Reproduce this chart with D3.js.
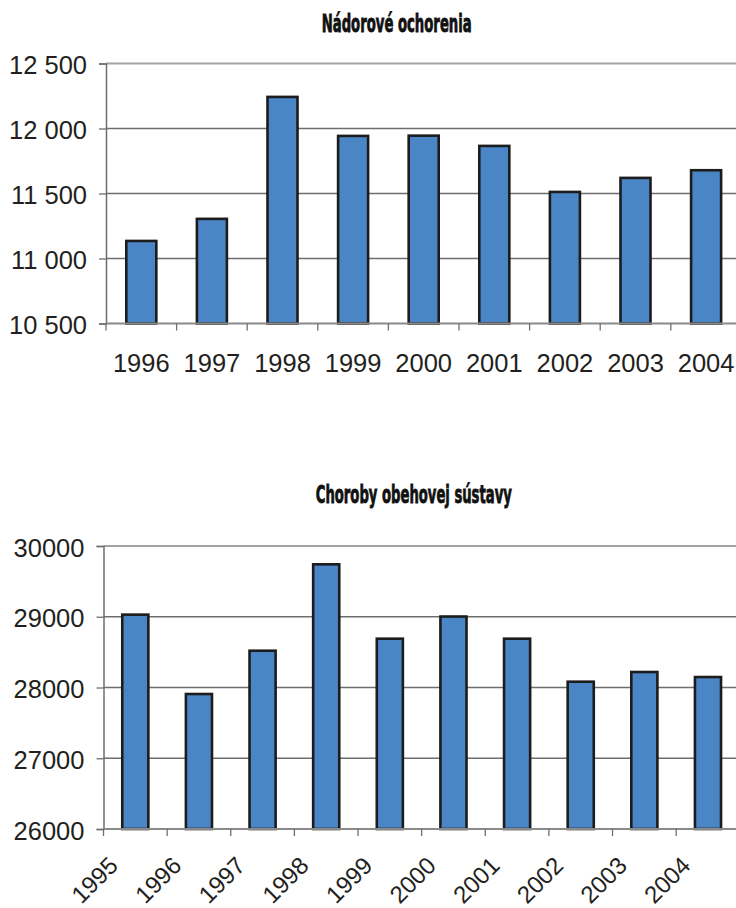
<!DOCTYPE html>
<html>
<head>
<meta charset="utf-8">
<script src="https://cdn.jsdelivr.net/npm/d3@7/dist/d3.min.js"></script>
<style>
  html, body { margin: 0; padding: 0; background: #fff; }
  svg { display: block; }
  .title { font-family: "Liberation Sans Narrow", "DejaVu Sans Condensed", "Liberation Sans", sans-serif; font-weight: bold; fill: #111; stroke: #111; stroke-width: 0.8px; }
  .tick text { font-family: "Liberation Sans", Arial, sans-serif; fill: #231f20; }
</style>
</head>
<body>
<script>
// Nádorové ochorenia
const tumourYears = ["1996", "1997", "1998", "1999", "2000", "2001", "2002", "2003", "2004"];
const tumourValues = [11135, 11305, 12243, 11943, 11945, 11866, 11512, 11620, 11679];
const tumourTicks = [10500, 11000, 11500, 12000, 12500];

// Choroby obehovej sústavy
const circulatoryYears = ["1995", "1996", "1997", "1998", "1999", "2000", "2001", "2002", "2003", "2004"];
const circulatoryValues = [29030, 27908, 28520, 29741, 28690, 29003, 28690, 28082, 28219, 28148];
const circulatoryTicks = [26000, 27000, 28000, 29000, 30000];

const W = 736, H = 908;
const barFill = "#4a86c6";
const barStroke = "#1c1c1c";

const skLocale = d3.formatLocale({ decimal: ",", thousands: " ", grouping: [3], currency: ["", ""] });

const svg = d3.select("body").append("svg")
  .attr("width", W).attr("height", H);

function drawChart(opts) {
  const g = svg.append("g");

  const x = d3.scaleBand()
    .domain(opts.categories)
    .range([opts.left, opts.right])
    .paddingInner(opts.pad)
    .paddingOuter(opts.pad / 2);

  const y = d3.scaleLinear()
    .domain([opts.ticks[0], opts.ticks[opts.ticks.length - 1]])
    .range([opts.bottom, opts.top]);

  // horizontal gridlines
  g.append("g").selectAll("line")
    .data(opts.ticks.slice(1))
    .join("line")
    .attr("x1", opts.left).attr("x2", W)
    .attr("y1", d => y(d)).attr("y2", d => y(d))
    .attr("stroke", (d, i, a) => i === a.length - 1 ? "#a3a3a3" : "#6e6e6e")
    .attr("stroke-width", (d, i, a) => i === a.length - 1 ? 2 : 1.3);

  // bars
  g.append("g").selectAll("rect")
    .data(opts.values)
    .join("rect")
    .attr("x", (d, i) => x(opts.categories[i]))
    .attr("width", x.bandwidth())
    .attr("y", d => y(d))
    .attr("height", d => y.range()[0] - y(d))
    .attr("fill", barFill)
    .attr("stroke", barStroke)
    .attr("stroke-width", 2.6);

  // value axis
  const yAxis = d3.axisLeft(y)
    .tickValues(opts.ticks)
    .tickSize(7)
    .tickPadding(12)
    .tickFormat(opts.format);
  const ya = g.append("g")
    .attr("transform", `translate(${opts.left},0)`)
    .call(yAxis);
  ya.select(".domain").attr("stroke", "#6e6e6e").attr("stroke-width", 1.5);
  ya.selectAll(".tick line").attr("stroke", "#6e6e6e").attr("stroke-width", 1.3);
  ya.selectAll(".tick text")
    .attr("font-size", opts.yFont)
    .attr("dy", "0.4em");

  // category axis baseline and tick marks at band edges
  g.append("line")
    .attr("x1", opts.left).attr("x2", W)
    .attr("y1", opts.bottom).attr("y2", opts.bottom)
    .attr("stroke", "#8a8a8a").attr("stroke-width", 2);

  const step = x.step();
  g.append("g").selectAll("line")
    .data(opts.categories)
    .join("line")
    .attr("x1", d => x(d) - step * opts.pad / 2)
    .attr("x2", d => x(d) - step * opts.pad / 2)
    .attr("y1", opts.bottom).attr("y2", opts.bottom + 7)
    .attr("stroke", "#6e6e6e").attr("stroke-width", 1.3);

  // category labels
  const lbl = g.append("g").attr("class", "tick").selectAll("text")
    .data(opts.categories)
    .join("text")
    .text(d => d)
    .attr("font-size", opts.xFont);

  if (opts.rotate) {
    lbl.attr("text-anchor", "end")
      .attr("transform", d => {
        const cx = x(d) + x.bandwidth() / 2 + opts.labelDx;
        return `translate(${cx},${opts.bottom + opts.labelDy}) rotate(-45)`;
      });
  } else {
    lbl.attr("text-anchor", "middle")
      .attr("x", d => x(d) + x.bandwidth() / 2)
      .attr("y", opts.bottom + opts.labelDy);
  }

  // title
  g.append("text")
    .attr("class", "title")
    .attr("x", opts.titleX)
    .attr("y", opts.titleY)
    .attr("text-anchor", "middle")
    .attr("font-size", 24.5)
    .attr("textLength", opts.titleWidth)
    .attr("lengthAdjust", "spacingAndGlyphs")
    .text(opts.title);
}

drawChart({
  title: "Nádorové ochorenia",
  titleX: 396.7, titleY: 31.7, titleWidth: 150,
  categories: tumourYears,
  values: tumourValues,
  ticks: tumourTicks,
  format: skLocale.format(",d"),
  left: 106, right: 741.4, top: 63.5, bottom: 323.5,
  pad: 0.575,
  yFont: 25.5, xFont: 25.5,
  rotate: false, labelDy: 48.5
});

drawChart({
  title: "Choroby obehovej sústavy",
  titleX: 413.8, titleY: 503, titleWidth: 196,
  categories: circulatoryYears,
  values: circulatoryValues,
  ticks: circulatoryTicks,
  format: d3.format("d"),
  left: 103.5, right: 739.8, top: 546, bottom: 829,
  pad: 0.59,
  yFont: 25.5, xFont: 24,
  rotate: true, labelDx: -16, labelDy: 38
});
</script>
</body>
</html>
